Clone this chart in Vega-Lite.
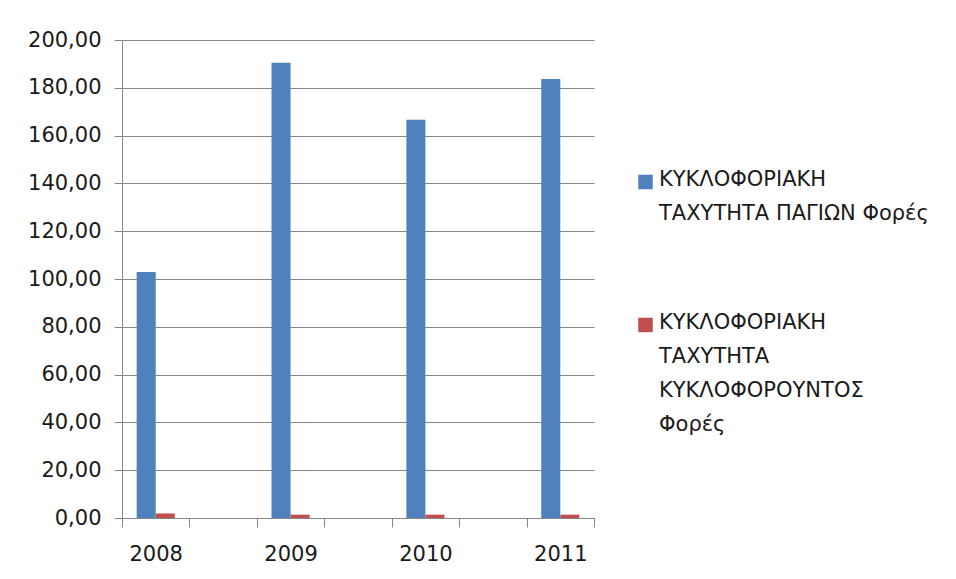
{
  "$schema": "https://vega.github.io/schema/vega-lite/v6.json",
  "width": 472,
  "height": 478,
  "autosize": {"type": "none"},
  "padding": {"left": 122, "top": 40, "right": 362, "bottom": 61},
  "background": "white",
  "data": {
    "values": [
      {"year": "2008", "series": "ΚΥΚΛΟΦΟΡΙΑΚΗ ΤΑΧΥΤΗΤΑ ΠΑΓΙΩΝ Φορές", "value": 102.9},
      {"year": "2008", "series": "ΚΥΚΛΟΦΟΡΙΑΚΗ ΤΑΧΥΤΗΤΑ ΚΥΚΛΟΦΟΡΟΥΝΤΟΣ Φορές", "value": 1.9},
      {"year": "2009", "series": "ΚΥΚΛΟΦΟΡΙΑΚΗ ΤΑΧΥΤΗΤΑ ΠΑΓΙΩΝ Φορές", "value": 190.5},
      {"year": "2009", "series": "ΚΥΚΛΟΦΟΡΙΑΚΗ ΤΑΧΥΤΗΤΑ ΚΥΚΛΟΦΟΡΟΥΝΤΟΣ Φορές", "value": 1.4},
      {"year": "2010", "series": "ΚΥΚΛΟΦΟΡΙΑΚΗ ΤΑΧΥΤΗΤΑ ΠΑΓΙΩΝ Φορές", "value": 166.6},
      {"year": "2010", "series": "ΚΥΚΛΟΦΟΡΙΑΚΗ ΤΑΧΥΤΗΤΑ ΚΥΚΛΟΦΟΡΟΥΝΤΟΣ Φορές", "value": 1.4},
      {"year": "2011", "series": "ΚΥΚΛΟΦΟΡΙΑΚΗ ΤΑΧΥΤΗΤΑ ΠΑΓΙΩΝ Φορές", "value": 183.7},
      {"year": "2011", "series": "ΚΥΚΛΟΦΟΡΙΑΚΗ ΤΑΧΥΤΗΤΑ ΚΥΚΛΟΦΟΡΟΥΝΤΟΣ Φορές", "value": 1.4}
    ]
  },
  "mark": {"type": "bar"},
  "encoding": {
    "x": {
      "field": "year",
      "type": "nominal",
      "scale": {"domain": ["2008", "g1", "2009", "g2", "2010", "g3", "2011"], "paddingInner": 0, "paddingOuter": 0},
      "axis": {
        "title": null,
        "labelAngle": 0,
        "labelExpr": "indexof(datum.label, 'g') == 0 ? '' : datum.label",
        "tickBand": "extent",
        "tickSize": 9,
        "tickColor": "#868686",
        "domainColor": "#868686",
        "labelPadding": 16,
        "grid": false
      }
    },
    "xOffset": {
      "field": "series",
      "type": "nominal",
      "scale": {"domain": ["ΚΥΚΛΟΦΟΡΙΑΚΗ ΤΑΧΥΤΗΤΑ ΠΑΓΙΩΝ Φορές", "ΚΥΚΛΟΦΟΡΙΑΚΗ ΤΑΧΥΤΗΤΑ ΚΥΚΛΟΦΟΡΟΥΝΤΟΣ Φορές"], "paddingInner": 0, "paddingOuter": 0.77}
    },
    "y": {
      "field": "value",
      "type": "quantitative",
      "scale": {"domain": [0, 200], "nice": false},
      "axis": {
        "title": null,
        "values": [0, 20, 40, 60, 80, 100, 120, 140, 160, 180, 200],
        "labelExpr": "replace(format(datum.value, '.2f'), '.', ',')",
        "tickSize": 8,
        "tickColor": "#868686",
        "domainColor": "#868686",
        "gridColor": "#868686",
        "labelPadding": 13
      }
    },
    "color": {
      "field": "series",
      "type": "nominal",
      "scale": {
        "domain": ["ΚΥΚΛΟΦΟΡΙΑΚΗ ΤΑΧΥΤΗΤΑ ΠΑΓΙΩΝ Φορές", "ΚΥΚΛΟΦΟΡΙΑΚΗ ΤΑΧΥΤΗΤΑ ΚΥΚΛΟΦΟΡΟΥΝΤΟΣ Φορές"],
        "range": ["#4F81BD", "#C0504D"]
      },
      "legend": {
        "title": null,
        "orient": "none",
        "legendX": 513,
        "legendY": 118,
        "padding": 0,
        "symbolType": "M-1,0.86H1V2.86H-1Z",
        "symbolSize": 210,
        "symbolStrokeWidth": 0,
        "labelBaseline": "top",
        "labelOffset": 3,
        "labelLimit": 400,
        "rowPadding": 77,
        "labelExpr": "datum.label == 'ΚΥΚΛΟΦΟΡΙΑΚΗ ΤΑΧΥΤΗΤΑ ΠΑΓΙΩΝ Φορές' ? ['ΚΥΚΛΟΦΟΡΙΑΚΗ', 'ΤΑΧΥΤΗΤΑ ΠΑΓΙΩΝ Φορές'] : ['ΚΥΚΛΟΦΟΡΙΑΚΗ', 'ΤΑΧΥΤΗΤΑ', 'ΚΥΚΛΟΦΟΡΟΥΝΤΟΣ', 'Φορές']"
      }
    }
  },
  "config": {
    "view": {"stroke": null},
    "font": "DejaVu Sans",
    "axis": {"labelFont": "DejaVu Sans", "labelFontSize": 21, "labelColor": "#1a1a1a", "gridWidth": 1, "domainWidth": 1, "tickWidth": 1},
    "legend": {"labelFont": "DejaVu Sans", "labelFontSize": 21, "labelColor": "#1a1a1a"},
    "style": {"guide-label": {"lineHeight": 34}}
  }
}
